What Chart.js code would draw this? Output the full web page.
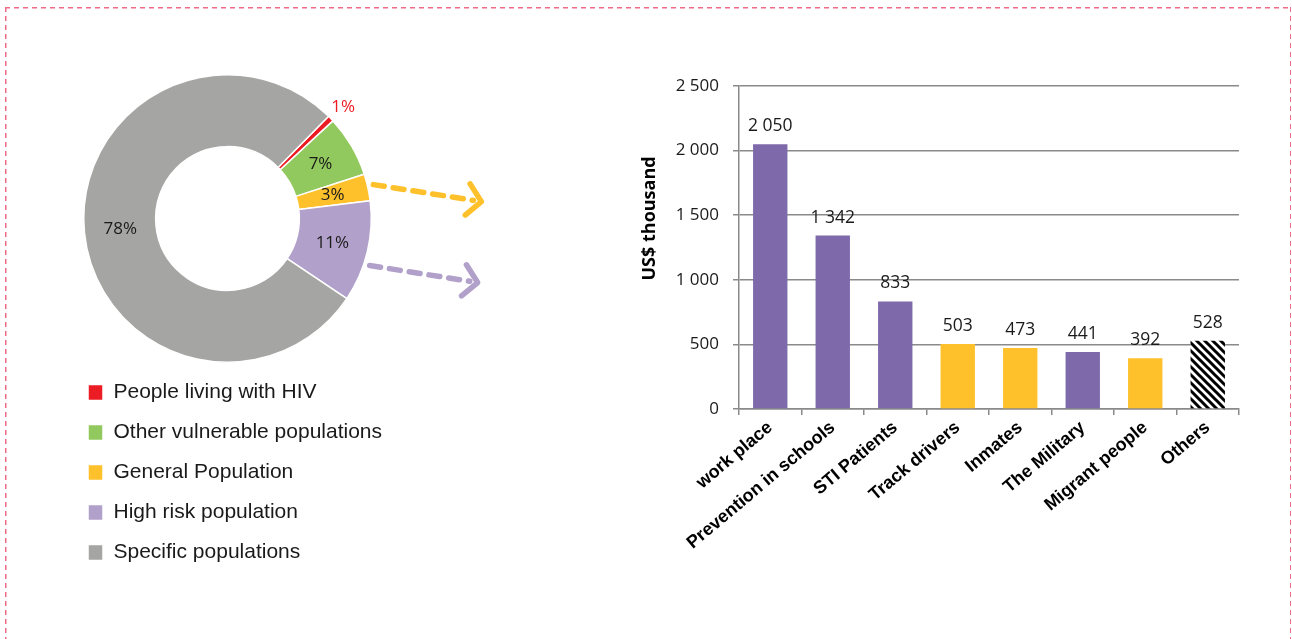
<!DOCTYPE html>
<html>
<head>
<meta charset="utf-8">
<script src="https://cdn.jsdelivr.net/npm/chart.js@4.4.1/dist/chart.umd.min.js"></script>
<style>
    html, body { margin: 0; padding: 0; background: #fff; }
    #page { position: relative; width: 1292px; height: 639px; overflow: hidden; }
    #frame {
        position: absolute; left: 5px; top: 7px; width: 1286px; height: 700px;
        background:
            repeating-linear-gradient(90deg, #ef6a85 0 5px, transparent 5px 9px) top left / 100% 1.5px no-repeat,
            repeating-linear-gradient(180deg, #ef6a85 0 5px, transparent 5px 9px) top left / 1.5px 100% no-repeat,
            repeating-linear-gradient(180deg, #ef6a85 0 5px, transparent 5px 9px) top right / 1.5px 100% no-repeat;
    }
    #donutChart { position: absolute; left: 0; top: 0; }
    #barChart { position: absolute; left: 600px; top: 0; }
</style>
</head>
<body>
<div id="page">
    <div id="frame"></div>
    <canvas id="donutChart" width="600" height="639"></canvas>
    <canvas id="barChart" width="692" height="639"></canvas>
</div>
<script>

// left: share of spending by population group (%)
const groupNames = [
    'People living with HIV',
    'Other vulnerable populations',
    'General Population',
    'High risk population',
    'Specific populations'
];
const groupShares = [0.7, 6.9, 3.0, 11.4, 78.0];
const groupColors = ['#ec1c24', '#92c95e', '#fec12c', '#b1a0c9', '#a5a6a3'];

// right: spending by programme (US$ thousand)
const programNames = [
    'work place',
    'Prevention in schools',
    'STI Patients',
    'Track drivers',
    'Inmates',
    'The Military',
    'Migrant people',
    'Others'
];
const programSpend = [2050, 1342, 833, 503, 473, 441, 392, 528];
const programGroup = ['high', 'high', 'high', 'general', 'general', 'high', 'general', 'other'];
const yTicks = [0, 500, 1000, 1500, 2000, 2500];

const AXIS_GREY = '#8a8a8a';
const CALIBRI = '"Open Sans", "Noto Sans", sans-serif';
const ARIAL = '"Liberation Sans", Arial, sans-serif';

function fmt(v) {
    return String(v).replace(/\B(?=(\d{3})+(?!\d))/g, ' ');
}

function makeHatch() {
    const c = document.createElement('canvas');
    c.width = 8;
    c.height = 8;
    const g = c.getContext('2d');
    g.fillStyle = '#fff';
    g.fillRect(0, 0, 8, 8);
    g.strokeStyle = '#000';
    g.lineWidth = 3;
    g.beginPath();
    g.moveTo(-4, -4); g.lineTo(12, 12);
    g.moveTo(-4, 4); g.lineTo(4, 12);
    g.moveTo(4, -4); g.lineTo(12, 4);
    g.stroke();
    return g.createPattern(c, 'repeat');
}

const programFill = {
    high: '#7e69ab',
    general: '#fec12c',
    other: makeHatch()
};

// percent labels on the ring, small slices go outside
const sliceLabels = {
    id: 'sliceLabels',
    afterDatasetsDraw(chart) {
        const ctx = chart.ctx;
        const meta = chart.getDatasetMeta(0);
        ctx.save();
        ctx.font = '17px ' + CALIBRI;
        ctx.textAlign = 'center';
        ctx.textBaseline = 'middle';
        meta.data.forEach((arc, i) => {
            const v = groupShares[i];
            const txt = Math.round(v) + '%';
            if (v < 2) {
                const mid = (arc.startAngle + arc.endAngle) / 2;
                const r = arc.outerRadius + 17;
                ctx.fillStyle = groupColors[i];
                ctx.fillText(txt, arc.x + Math.cos(mid) * r, arc.y + Math.sin(mid) * r);
            } else {
                const p = arc.tooltipPosition();
                ctx.fillStyle = '#1a1a1a';
                ctx.fillText(txt, p.x, p.y);
            }
        });
        ctx.restore();
    }
};

// dashed arrows pointing from the ring to the bar chart
const pointerArrows = {
    id: 'pointerArrows',
    afterDraw(chart) {
        const ctx = chart.ctx;
        const meta = chart.getDatasetMeta(0);
        const arrows = [{slice: 2, at: 0.45}, {slice: 3, at: 0.62}];
        ctx.save();
        ctx.lineCap = 'round';
        ctx.lineJoin = 'round';
        ctx.lineWidth = 5.5;
        arrows.forEach(a => {
            const arc = meta.data[a.slice];
            const ang = arc.startAngle + a.at * (arc.endAngle - arc.startAngle);
            const r = arc.outerRadius + 6;
            const x0 = arc.x + Math.cos(ang) * r;
            const y0 = arc.y + Math.sin(ang) * r;
            const x1 = x0 + 108;
            const y1 = y0 + 17;
            const dir = Math.atan2(y1 - y0, x1 - x0);
            ctx.strokeStyle = groupColors[a.slice];
            ctx.setLineDash([11, 9]);
            ctx.beginPath();
            ctx.moveTo(x0, y0);
            ctx.lineTo(x1 - 8 * Math.cos(dir), y1 - 8 * Math.sin(dir));
            ctx.stroke();
            ctx.setLineDash([]);
            ctx.beginPath();
            ctx.moveTo(x1 + 21 * Math.cos(dir + Math.PI - 0.85), y1 + 21 * Math.sin(dir + Math.PI - 0.85));
            ctx.lineTo(x1, y1);
            ctx.lineTo(x1 + 21 * Math.cos(dir + Math.PI + 0.85), y1 + 21 * Math.sin(dir + Math.PI + 0.85));
            ctx.stroke();
        });
        ctx.restore();
    }
};

const barValueLabels = {
    id: 'barValueLabels',
    afterDatasetsDraw(chart) {
        const ctx = chart.ctx;
        const meta = chart.getDatasetMeta(0);
        ctx.save();
        ctx.font = '17.5px ' + CALIBRI;
        ctx.fillStyle = '#1a1a1a';
        ctx.textAlign = 'center';
        ctx.textBaseline = 'alphabetic';
        meta.data.forEach((bar, i) => {
            ctx.fillText(fmt(programSpend[i]), bar.x, bar.y - 13);
        });
        ctx.restore();
    }
};

const yAxisTitle = {
    id: 'yAxisTitle',
    afterDraw(chart) {
        const ctx = chart.ctx;
        const area = chart.chartArea;
        ctx.save();
        ctx.translate(50, area.top + (area.bottom - area.top) * 0.41);
        ctx.rotate(-Math.PI / 2);
        ctx.font = 'bold 18px ' + CALIBRI;
        ctx.fillStyle = '#000';
        ctx.textAlign = 'center';
        ctx.textBaseline = 'middle';
        ctx.fillText('US$ thousand', 0, 0);
        ctx.restore();
    }
};

const donutChart = new Chart(document.getElementById('donutChart'), {
    type: 'doughnut',
    data: {
        labels: groupNames,
        datasets: [{
            data: groupShares,
            backgroundColor: groupColors,
            borderColor: '#fff',
            borderWidth: 1.5
        }]
    },
    options: {
        responsive: false,
        animation: false,
        rotation: 44.7,
        cutout: '50%',
        layout: {padding: {left: 69, right: 214, top: 74, bottom: 66}},
        plugins: {
            legend: {
                position: 'bottom',
                align: 'start',
                labels: {
                    boxWidth: 15,
                    boxHeight: 16,
                    padding: 19,
                    color: '#1a1a1a',
                    font: {family: ARIAL, size: 21}
                }
            },
            tooltip: {enabled: false}
        }
    },
    plugins: [sliceLabels, pointerArrows]
});

const barChart = new Chart(document.getElementById('barChart'), {
    type: 'bar',
    data: {
        labels: programNames,
        datasets: [{
            data: programSpend,
            backgroundColor: programGroup.map(g => programFill[g]),
            barPercentage: 0.55,
            categoryPercentage: 1
        }]
    },
    options: {
        responsive: false,
        animation: false,
        layout: {padding: {left: 0, right: 53, top: 86, bottom: 0}},
        plugins: {
            legend: {display: false},
            tooltip: {enabled: false}
        },
        scales: {
            x: {
                grid: {display: true, drawOnChartArea: false, tickLength: 6, color: AXIS_GREY, lineWidth: 1.5},
                border: {color: AXIS_GREY, width: 1.5},
                ticks: {
                    color: '#000',
                    font: {family: ARIAL, size: 18, weight: 'bold'},
                    maxRotation: 40,
                    minRotation: 40,
                    autoSkip: false,
                    padding: 2
                },
                afterFit: s => { s.height = 230; }
            },
            y: {
                min: 0,
                max: 2500,
                afterBuildTicks: s => { s.ticks = yTicks.map(v => ({value: v})); },
                ticks: {
                    color: '#1a1a1a',
                    padding: 14,
                    font: {family: CALIBRI, size: 17},
                    callback: v => fmt(v)
                },
                grid: {color: AXIS_GREY, lineWidth: 1.5, tickLength: 6},
                border: {color: AXIS_GREY, width: 1.5},
                afterFit: s => { s.width = 139; }
            }
        }
    },
    plugins: [barValueLabels, yAxisTitle]
});
</script>
</body>
</html>
